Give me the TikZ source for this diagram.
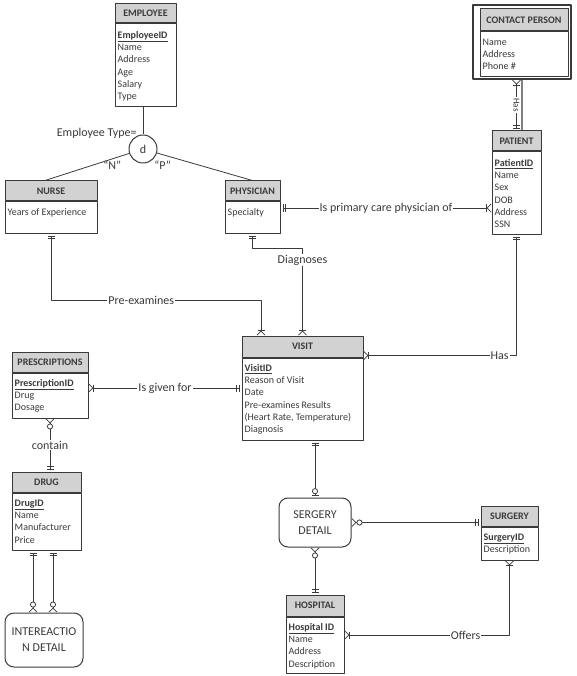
\documentclass[tikz,border=0pt]{standalone}
\usepackage{fontspec}
\setmainfont{Carlito}
\usetikzlibrary{arrows.meta}

\definecolor{ink}{HTML}{3A3A3A}
\definecolor{headfill}{HTML}{D2D2D2}
\newcommand{\pkey}[1]{\underline{\textbf{#1}}}

\tikzset{
  oneone/.tip={Bar[width=7pt,sep=1.5pt] Bar[width=7pt,sep=2pt]},
  onemany/.tip={Bar[width=7pt,sep=0pt] Straight Barb[reversed,length=4pt,width=8pt]},
  zeromany/.tip={Circle[length=6pt,fill=white,sep=0pt] Straight Barb[reversed,length=4pt,width=8pt]},
  zeroone/.tip={Circle[length=6pt,fill=white,sep=1pt] Bar[width=7pt,sep=1.5pt]},
}

\begin{document}
\begin{tikzpicture}[x=1pt, y=-1pt, line join=round,
    ent/.style={draw=ink, line width=1pt, fill=headfill, text=ink, inner sep=0pt,
      font=\fontsize{10}{12}\selectfont\bfseries},
    bod/.style={draw=ink, line width=1pt, fill=white, inner sep=0pt, anchor=north},
    att/.style={anchor=north west, align=left, inner sep=0pt, text=ink,
      font=\fontsize{10}{12.3}\selectfont},
    rnd/.style={draw=ink, line width=1pt, rounded corners=9pt, align=center, text=ink,
      inner sep=0pt, font=\fontsize{12}{16}\selectfont},
    rel/.style={draw=ink, line width=0.8pt},
    lab/.style={fill=white, inner sep=1pt, text=ink, font=\fontsize{12}{14}\selectfont}]
\useasboundingbox (0,0) rectangle (576,676);

% employee and its two subtypes
\node[ent, minimum width=61, minimum height=19] (emp) at (145.5,13.5) {EMPLOYEE};
\node[bod, minimum width=61, minimum height=83] (empb) at (emp.south) {};
\node[att] at ([shift={(3,6)}]empb.north west) {\strut\pkey{EmployeeID}\\Name\\Address\\Age\\Salary\\Type};

\node[draw=ink, line width=1pt, fill=white, circle, minimum size=28, inner sep=0pt,
  text=ink, font=\fontsize{12}{14}\selectfont] (dj) at (143,149) {d};
\node[lab, fill=none, inner sep=0pt, anchor=south east] at ([xshift=4pt]dj.north west) {Employee Type=};

\node[ent, minimum width=92, minimum height=20] (nurse) at (51,191) {NURSE};
\node[bod, minimum width=92, minimum height=31] (nurseb) at (nurse.south) {};
\node[att] at ([shift={(3,5)}]nurseb.north west) {\strut Years of Experience};

\node[ent, minimum width=55, minimum height=20] (phys) at (252.5,191) {PHYSICIAN};
\node[bod, minimum width=55, minimum height=31] (physb) at (phys.south) {};
\node[att] at ([shift={(3,5)}]physb.north west) {\strut Specialty};

% patient side
\node[draw=ink, line width=1.4pt, minimum width=98, minimum height=74] (cpo) at (522,42) {};
\node[ent, minimum width=88, minimum height=22] (cp) at (524,20) {CONTACT PERSON};
\node[bod, minimum width=88, minimum height=45] (cpb) at (cp.south) {};
\node[att] at ([shift={(3,5)}]cpb.north west) {\strut Name\\Address\\Phone \#};

\node[ent, minimum width=49, minimum height=20] (pat) at (516.5,141) {PATIENT};
\node[bod, minimum width=49, minimum height=82] (patb) at (pat.south) {};
\node[att] at ([shift={(3,6)}]patb.north west) {\strut\pkey{PatientID}\\Name\\Sex\\DOB\\Address\\SSN};

% visit and prescriptions
\node[ent, minimum width=121, minimum height=21] (vis) at (302.5,346.5) {VISIT};
\node[bod, minimum width=121, minimum height=82] (visb) at (vis.south) {};
\node[att] at ([shift={(3,5)}]visb.north west) {\strut\pkey{VisitID}\\Reason of Visit\\Date\\Pre-examines Results\\(Heart Rate, Temperature)\\Diagnosis};

\node[ent, minimum width=76, minimum height=20] (pres) at (50,362) {PRESCRIPTIONS};
\node[bod, minimum width=76, minimum height=45] (presb) at (pres.south) {};
\node[att] at ([shift={(3,5)}]presb.north west) {\strut\pkey{PrescriptionID}\\Drug\\Dosage};

\node[ent, minimum width=69, minimum height=20] (drug) at (46.5,482) {DRUG};
\node[bod, minimum width=69, minimum height=57] (drugb) at (drug.south) {};
\node[att] at ([shift={(3,5)}]drugb.north west) {\strut\pkey{DrugID}\\Name\\Manufacturer\\Price};

\node[rnd, minimum width=78, minimum height=54] (inter) at (44,640) {INTEREACTIO\\N DETAIL};

% surgery part
\node[rnd, minimum width=72, minimum height=49] (sd) at (315,522.5) {SERGERY\\DETAIL};

\node[ent, minimum width=57, minimum height=20] (surg) at (509.5,516) {SURGERY};
\node[bod, minimum width=57, minimum height=33] (surgb) at (surg.south) {};
\node[att] at ([shift={(3,5)}]surgb.north west) {\strut\pkey{SurgeryID}\\Description};

\node[ent, minimum width=58, minimum height=21] (hosp) at (315,605.5) {HOSPITAL};
\node[bod, minimum width=58, minimum height=56] (hospb) at (hosp.south) {};
\node[att] at ([shift={(3,5)}]hospb.north west) {\strut\pkey{Hospital ID}\\Name\\Address\\Description};

% connectors
\draw[rel] (dj.north |- empb.south) -- (dj);
\draw[rel] (dj) -- node[lab, fill=none, pos=0.2, below=1pt]{``N''} ([xshift=-6pt]nurse.north);
\draw[rel] (dj) -- node[lab, fill=none, pos=0.06, below=5pt]{``P''} (phys.north);

\draw[rel, {oneone}-{onemany}] ([yshift=9.5pt]physb.east) -- ([yshift=9.5pt]physb.east -| patb.west)
  node[lab, midway]{Is primary care physician of};
\draw[rel, {onemany}-{oneone}] (pat.north |- cpo.south) -- (pat.north)
  node[lab, midway, rotate=-90, font=\fontsize{9}{10}\selectfont]{Has};
\draw[draw=gray, line width=2.2pt] (cpo.south) -- (cpo.south |- pat.north);

\draw[rel, {oneone}-{onemany}] (nurseb.south) -- (nurseb.south |- 0,300)
  -- node[lab, pos=0.43]{Pre-examines} ([xshift=-41.5pt]vis.north |- 0,300) -- ([xshift=-41.5pt]vis.north);
\draw[rel, {oneone}-{onemany}] (physb.south) -- (physb.south |- 0,248)
  -| node[lab, pos=0.57]{Diagnoses} (vis.north);
\draw[rel, {oneone}-{onemany}] (patb.south) |- node[lab, pos=0.555]{Has} ([yshift=2pt]visb.north east);
\draw[rel, {onemany}-{oneone}] ([yshift=7.5pt]presb.east) -- ([yshift=7.5pt]presb.east -| visb.west)
  node[lab, midway]{Is given for};
\draw[rel, {zeromany}-{oneone}] (presb.south) -- (presb.south |- drug.north)
  node[lab, midway]{contain};
\draw[rel, {oneone}-{zeromany}] ([xshift=-13.5pt]drugb.south) -- ([xshift=-13.5pt]drugb.south |- inter.north);
\draw[rel, {oneone}-{zeromany}] ([xshift=6.5pt]drugb.south) -- ([xshift=6.5pt]drugb.south |- inter.north);

\draw[rel, {oneone}-{zeroone}] (sd.north |- visb.south) -- (sd.north);
\draw[rel, {zeromany}-{oneone}] (sd.east) -- (sd.east -| surg.west);
\draw[rel, {zeromany}-{oneone}] (sd.south) -- (hosp.north);
\draw[rel, {onemany}-{onemany}] ([yshift=10pt]hospb.east) -| node[lab, pos=0.367]{Offers} (surgb.south);
\end{tikzpicture}
\end{document}
